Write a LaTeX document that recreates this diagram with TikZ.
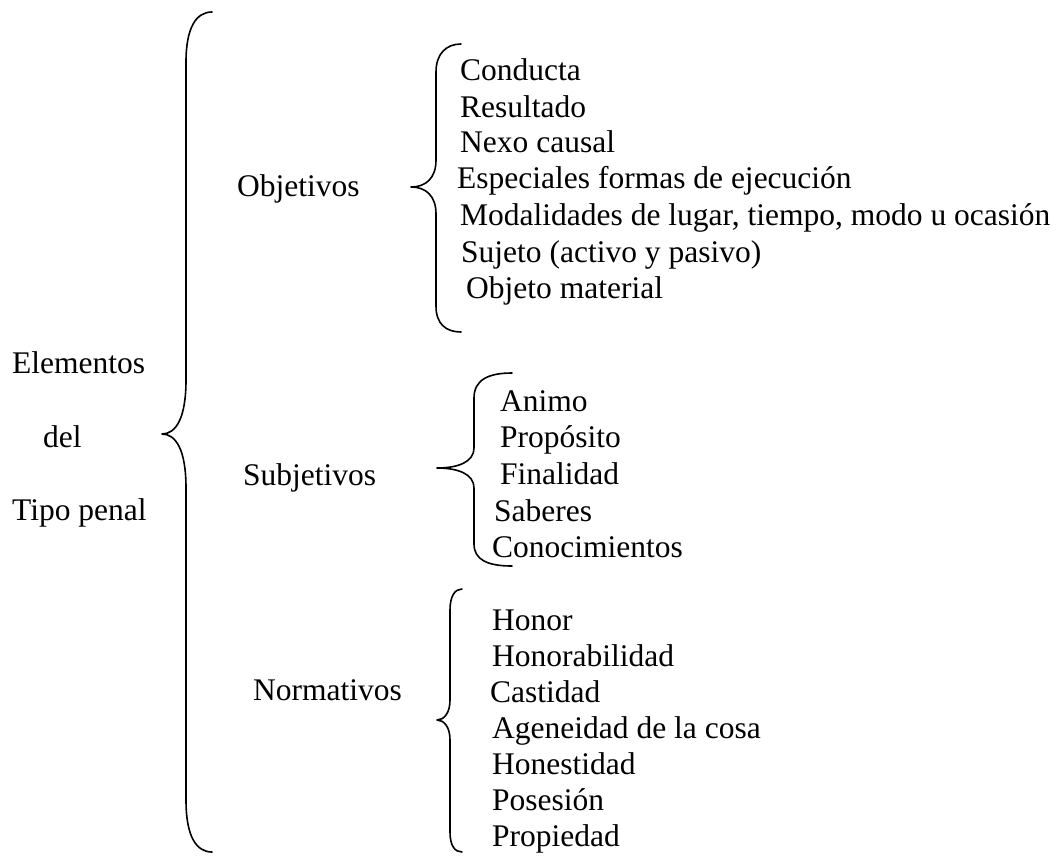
\documentclass[tikz,border=0pt]{standalone}
\usepackage{fontspec}
\setmainfont{Liberation Serif}
\begin{document}
\begin{tikzpicture}[x=1pt,y=-1pt,
  txt/.style={anchor=base west,inner sep=0pt,font=\fontsize{31.5}{36}\selectfont},
  brace/.style={line width=1.6pt,line join=round,line cap=round}]
\useasboundingbox (0,0) rectangle (1064,859);
% left labels
\node[txt] (el) at (12,373) {Elementos};
\node[txt] (de) at (43,447) {del};
\node[txt] (tp) at (12,520) {Tipo penal};
% big brace
\coordinate (bt) at (162,434);
\draw[brace] (212,12) .. controls (196,12) and (186,28) .. (186,62)
  -- (186,380) .. controls (186,418) and (176,434) .. (bt)
  .. controls (176,434) and (186,450) .. (186,488)
  -- (186,800) .. controls (186,836) and (196,852) .. (212,852);
% group labels
\node[txt] (ob) at (237,196) {Objetivos};
\node[txt] (su) at (243,485) {Subjetivos};
\node[txt] (no) at (253,700) {Normativos};
% Objetivos brace
\coordinate (obt) at (411,187);
\draw[brace] (461,44) .. controls (446,44) and (436,54) .. (436,72)
  -- (436,160) .. controls (436,178) and (426,187) .. (obt)
  .. controls (426,187) and (436,196) .. (436,214)
  -- (436,306) .. controls (436,324) and (446,332) .. (461,332);
\node[txt] (o1) at (460,80) {Conducta};
\node[txt] (o2) at (460,117) {Resultado};
\node[txt] (o3) at (460,152) {Nexo causal};
\node[txt] (o4) at (457,188) {Especiales formas de ejecución};
\node[txt] (o5) at (460,225) {Modalidades de lugar, tiempo, modo u ocasión};
\node[txt] (o6) at (461,262) {Sujeto (activo y pasivo)};
\node[txt] (o7) at (466,298) {Objeto material};
% Subjetivos brace
\coordinate (sbt) at (437,468);
\draw[brace] (512,373) .. controls (488,373) and (474,380) .. (474,398)
  -- (474,448) .. controls (474,462) and (458,468) .. (sbt)
  .. controls (458,468) and (474,474) .. (474,488)
  -- (474,544) .. controls (474,560) and (488,566) .. (512,566);
\node[txt] (s1) at (500,411) {Animo};
\node[txt] (s2) at (500,447) {Propósito};
\node[txt] (s3) at (500,484) {Finalidad};
\node[txt] (s4) at (494,521) {Saberes};
\node[txt] (s5) at (492,557) {Conocimientos};
% Normativos brace
\coordinate (nbt) at (437,720);
\draw[brace] (462,589) .. controls (455,589) and (450,596) .. (450,610)
  -- (450,700) .. controls (450,713) and (444,720) .. (nbt)
  .. controls (444,720) and (450,727) .. (450,740)
  -- (450,832) .. controls (450,846) and (455,852) .. (462,852);
\node[txt] (n1) at (492,630) {Honor};
\node[txt] (n2) at (492,666) {Honorabilidad};
\node[txt] (n3) at (490,702) {Castidad};
\node[txt] (n4) at (492,738) {Ageneidad de la cosa};
\node[txt] (n5) at (492,774) {Honestidad};
\node[txt] (n6) at (492,810) {Posesión};
\node[txt] (n7) at (492,846) {Propiedad};
\end{tikzpicture}
\end{document}
